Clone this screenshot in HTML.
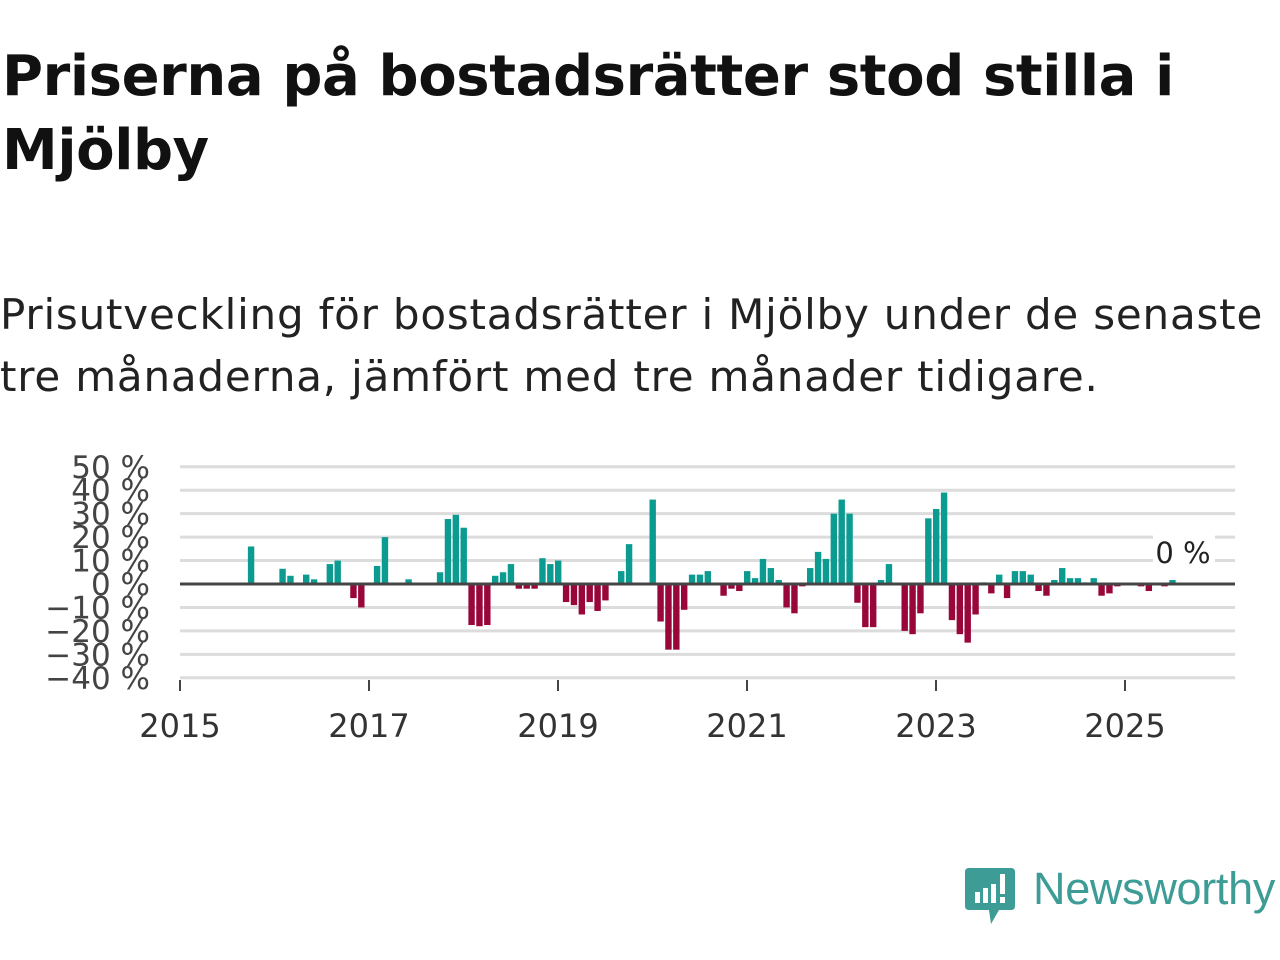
<!DOCTYPE html>
<html><head><meta charset="utf-8"><style>
body{margin:0;width:1280px;height:960px;background:#fff;overflow:hidden;font-family:"Liberation Sans","DejaVu Sans",sans-serif;}
#title{position:absolute;left:2px;top:40px;margin:0;font-size:56px;font-weight:bold;line-height:74px;color:#111;font-family:"DejaVu Sans","Liberation Sans",sans-serif;letter-spacing:-0.4px}
#sub{position:absolute;left:0;top:284px;margin:0;font-size:42px;line-height:62px;color:#222;font-family:"DejaVu Sans","Liberation Sans",sans-serif;letter-spacing:0.8px}
svg{position:absolute;left:0;top:0}
</style></head><body>
<h1 id="title">Priserna på bostadsrätter stod stilla i<br>Mjölby</h1>
<p id="sub">Prisutveckling för bostadsrätter i Mjölby under de senaste<br>tre månaderna, jämfört med tre månader tidigare.</p>
<svg id="chart" width="1280" height="960"></svg>
<div style="position:absolute;left:965px;top:866px;width:315px;height:60px">
<svg width="50" height="60" style="position:absolute;left:0;top:0"><path d="M4 2 H46 Q50 2 50 6 V40 Q50 44 46 44 H34 L26 58 L24 44 H4 Q0 44 0 40 V6 Q0 2 4 2Z" fill="#3d9c96"/><rect x="10" y="26" width="5" height="11" fill="#fff"/><rect x="18" y="22" width="5" height="15" fill="#fff"/><rect x="26" y="18" width="5" height="19" fill="#fff"/><rect x="35" y="8" width="5" height="20" fill="#fff"/><rect x="35" y="31" width="5" height="6" fill="#fff"/></svg>
<span style="position:absolute;left:68px;top:-3px;font-size:45px;color:#3d9c96;font-family:'Liberation Sans','DejaVu Sans',sans-serif;letter-spacing:-0.3px">Newsworthy</span></div>
<script>
const months=[9,13,14,16,17,19,20,22,23,25,26,29,33,34,35,36,37,38,39,40,41,42,43,44,45,46,47,48,49,50,51,52,53,54,56,57,60,61,62,63,64,65,66,67,69,70,71,72,73,74,75,76,77,78,79,80,81,82,83,84,85,86,87,88,89,90,92,93,94,95,96,97,98,99,100,101,102,103,104,105,106,107,108,109,110,111,112,113,114,115,116,117,118,119,122,123,125,126];
const values=[16,6.5,3.5,4,2,8.5,10,-6,-10,7.7,20,2,5,27.7,29.5,24,-17.5,-18,-17.5,3.5,5,8.5,-2,-2,-2,11,8.5,10,-7.7,-9,-13,-7.7,-11.5,-7,5.5,17,36,-16,-28,-28,-11,4,4,5.5,-5,-2,-3,5.5,2.5,10.7,6.8,1.7,-10,-12.5,-1,6.8,13.7,10.7,30,36,30,-8,-18.4,-18.4,1.7,8.5,-20,-21.4,-12.5,28,32,39,-15.4,-21.4,-25,-13,0.7,-4,4,-6,5.5,5.5,4,-3,-5,1.7,6.8,2.5,2.5,0.7,2.5,-5,-4,-1,-1,-3,-1,1.7];
const yTicks=[50,40,30,20,10,0,-10,-20,-30,-40];
const xYears=[2015,2017,2019,2021,2023,2025];
const NS='http://www.w3.org/2000/svg';
const svg=document.getElementById('chart');
const x=m=>180+m*7.875;
const y=v=>584-v*2.345;
function mk(t,a){const e=document.createElementNS(NS,t);for(const k in a)e.setAttribute(k,a[k]);svg.appendChild(e);return e;}
yTicks.forEach(v=>{
 if(v!==0){const g=mk('line',{x1:180,x2:1235,y1:y(v),y2:y(v),stroke:'#dcdcdc','stroke-width':3});
 
 }
 const t=mk('text',{x:150,y:y(v)+11,'text-anchor':'end','font-size':31,fill:'#444','font-family':'DejaVu Sans, Liberation Sans, sans-serif'});
 t.textContent=(v<0?'−'+(-v):v)+' %';
 
 
});
months.forEach((m,i)=>{
 const v=values[i];
 const r=mk('rect',{x:x(m)-3,width:6.4,y:Math.min(y(v),584),height:Math.abs(y(v)-584),fill:v>=0?'#0c9b91':'#98063a'});
 
 
});
const z=mk('line',{x1:180,x2:1235,y1:584,y2:584,stroke:'#444','stroke-width':3});


xYears.forEach(yr=>{
 const xx=x((yr-2015)*12);
 const tk=mk('line',{x1:xx,x2:xx,y1:680,y2:691,stroke:'#444','stroke-width':2});
 
 
 const t=mk('text',{x:xx,y:737,'text-anchor':'middle','font-size':32,fill:'#333','font-family':'DejaVu Sans, Liberation Sans, sans-serif'});
 t.textContent=yr;
 
 
});
const bg=mk('rect',{x:1153,y:535,width:62,height:36,fill:'#fff'});


const lv=mk('text',{x:1183,y:563,'text-anchor':'middle','font-size':29,fill:'#222','font-family':'DejaVu Sans, Liberation Sans, sans-serif'});
lv.textContent='0 %';


</script>
</body></html>
